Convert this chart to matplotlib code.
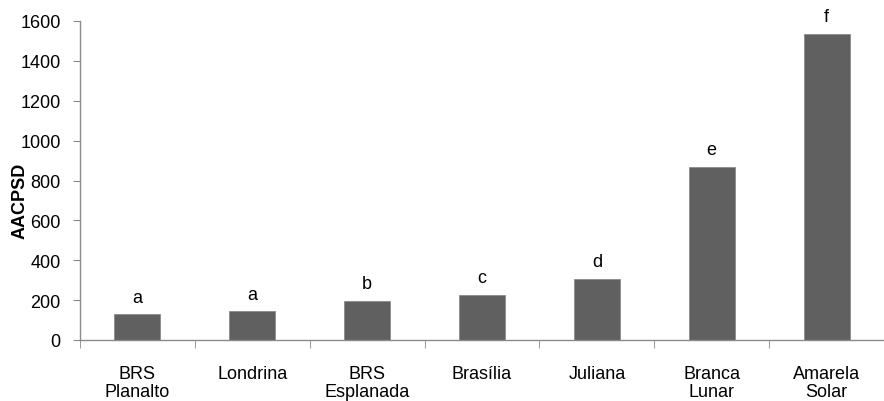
import matplotlib
matplotlib.use("Agg")
import matplotlib.pyplot as plt
import numpy as np

cultivars = ["BRS\nPlanalto", "Londrina", "BRS\nEsplanada", "Brasília",
             "Juliana", "Branca\nLunar", "Amarela\nSolar"]
aacpsd = [130, 143, 197, 227, 308, 870, 1536]
letters = ["a", "a", "b", "c", "d", "e", "f"]

plt.rcParams["font.family"] = ["Liberation Sans", "DejaVu Sans"]
fs = 13

fig = plt.figure(figsize=(8.84, 4.02), dpi=100)
ax = fig.add_axes([80 / 884, 1 - 341 / 402, 804 / 884, 319 / 402])

x = np.arange(len(cultivars))
ax.bar(x, aacpsd, width=0.40, color="#606060", edgecolor="#8a8a8a", linewidth=0.6)

for xi, v, lab in zip(x, aacpsd, letters):
    ax.annotate(lab, (xi, v), xytext=(0, 6), textcoords="offset points",
                ha="center", va="bottom", fontsize=fs)

ax.set_xlim(-0.5, len(cultivars) - 0.5)
ax.set_ylim(0, 1600)
ax.set_yticks(np.arange(0, 1601, 200))
ax.tick_params(axis="y", labelsize=fs, color="#8a8a8a", length=5, pad=9)

ax.set_xticks(x)
ax.set_xticklabels(cultivars, fontsize=fs, linespacing=1.05)
ax.set_xticks(np.arange(-0.5, len(cultivars)), minor=True)
ax.tick_params(axis="x", which="major", length=0, pad=18)
ax.tick_params(axis="x", which="minor", length=6, color="#8a8a8a")

ax.set_ylabel("AACPSD", fontsize=fs, fontweight="bold")
ax.yaxis.set_label_coords(-0.064, 0.44)

for s in ["top", "right"]:
    ax.spines[s].set_visible(False)
for s in ["left", "bottom"]:
    ax.spines[s].set_color("#8a8a8a")
    ax.spines[s].set_linewidth(1.0)

fig.savefig("out.png", dpi=100)
